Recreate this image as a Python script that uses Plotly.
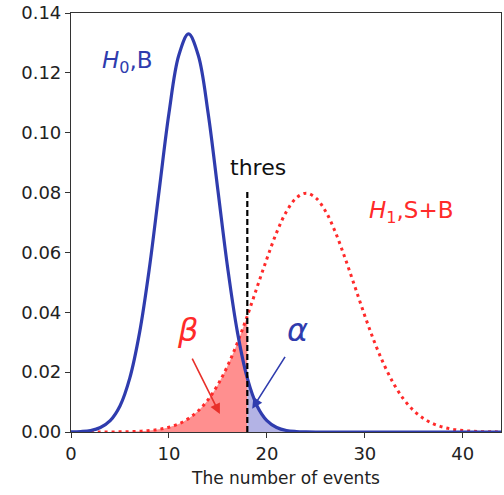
import numpy as np
import plotly.graph_objects as go

# ---- data ----
x_b = list(range(0, 45))
h0_b = [0.00004, 0.00016, 0.0005, 0.0015, 0.0038, 0.0087, 0.018, 0.0332, 0.0547, 0.0807,
        0.1065, 0.1258, 0.133, 0.1258, 0.1065, 0.0807, 0.0547, 0.0332, 0.018, 0.0087,
        0.0038, 0.0015, 0.0005, 0.00016, 0.00004] + [0.0] * 20

x_s = list(range(2, 45))
h1_sb = [0.000005, 0.000012, 0.000027, 0.000058, 0.00012, 0.00025, 0.00048, 0.00089,
         0.0016, 0.0027, 0.0045, 0.0071, 0.0108, 0.0158, 0.0222, 0.0299, 0.0388, 0.0484,
         0.0579, 0.0667, 0.0737, 0.0782, 0.0798, 0.0782, 0.0737, 0.0667, 0.0579, 0.0484,
         0.0388, 0.0299, 0.0222, 0.0158, 0.0108, 0.0071, 0.0045, 0.0027, 0.0016, 0.00089,
         0.00048, 0.00025, 0.00012, 0.000058, 0.000027]

thres = 18
thres_top = 0.0805
x_ticks = [0, 10, 20, 30, 40]
y_ticks = [0.00, 0.02, 0.04, 0.06, 0.08, 0.10, 0.12, 0.14]

BLUE = "#2f3cae"
RED = "#ff2a2a"
FONT = "DejaVu Sans"

xb = np.array(x_b)
yb = np.array(h0_b)
xs = np.array(x_s)
ys = np.array(h1_sb)

fig = go.Figure()

# beta region (under H1 left of threshold)
m = xs <= thres
fig.add_trace(go.Scatter(x=xs[m], y=ys[m], mode="lines", line=dict(width=0, shape="spline"),
                         fill="tozeroy", fillcolor="rgba(255,115,115,0.8)", hoverinfo="skip"))
# alpha region (under H0 right of threshold)
m2 = xb >= thres
fig.add_trace(go.Scatter(x=xb[m2], y=yb[m2], mode="lines", line=dict(width=0, shape="spline"),
                         fill="tozeroy", fillcolor="rgba(160,160,222,0.8)", hoverinfo="skip"))

# curves
fig.add_trace(go.Scatter(x=xs, y=ys, mode="lines",
                         line=dict(color=RED, width=3, dash="3px,4px", shape="spline")))
fig.add_trace(go.Scatter(x=xb, y=yb, mode="lines",
                         line=dict(color=BLUE, width=3.2, shape="spline")))

# threshold
fig.add_trace(go.Scatter(x=[thres, thres], y=[0, thres_top], mode="lines",
                         line=dict(color="black", width=2.2, dash="6px,3px")))

ann = []
ann.append(dict(x=19.1, y=0.0885, text="thres", showarrow=False,
                font=dict(size=22, color="#111", family=FONT)))
ann.append(dict(x=5.8, y=0.1235, text="<i>H</i><sub>0</sub>,B", showarrow=False,
                font=dict(size=23, color=BLUE, family=FONT)))
ann.append(dict(x=34.8, y=0.0735, text="<i>H</i><sub>1</sub>,S+B", showarrow=False,
                font=dict(size=23, color=RED, family=FONT)))
ann.append(dict(x=11.9, y=0.034, text="<i>β</i>", showarrow=False,
                font=dict(size=32, color=RED, family=FONT)))
ann.append(dict(x=23.1, y=0.034, text="<i>α</i>", showarrow=False,
                font=dict(size=32, color=BLUE, family=FONT)))
# arrows
ann.append(dict(x=15.2, y=0.006, ax=12.3, ay=0.025, axref="x", ayref="y", xref="x", yref="y",
                text="", showarrow=True, arrowhead=2, arrowsize=1.3, arrowwidth=1.6,
                arrowcolor="#e8302a"))
ann.append(dict(x=18.5, y=0.0078, ax=21.95, ay=0.0256, axref="x", ayref="y", xref="x", yref="y",
                text="", showarrow=True, arrowhead=2, arrowsize=1.3, arrowwidth=1.6,
                arrowcolor=BLUE))

fig.update_layout(
    width=504, height=495,
    margin=dict(l=71, r=2, t=11, b=63),
    paper_bgcolor="white", plot_bgcolor="white",
    showlegend=False,
    annotations=ann,
    font=dict(family=FONT, size=18, color="#222"),
)
fig.update_xaxes(range=[0, 43.9], tickvals=x_ticks, ticktext=[str(v) for v in x_ticks],
                 showgrid=False, zeroline=False, showline=True, linecolor="#333", linewidth=1.2,
                 mirror=True, ticks="outside", ticklen=5, tickcolor="#333",
                 tickfont=dict(size=18, family=FONT, color="#222"),
                 title=dict(text="The number of events", font=dict(size=17, family=FONT, color="#222"),
                            standoff=9))
fig.update_yaxes(range=[0, 0.14], tickvals=y_ticks, ticktext=[f"{v:.2f}" for v in y_ticks],
                 showgrid=False, zeroline=False, showline=True, linecolor="#333", linewidth=1.2,
                 mirror=True, ticks="outside", ticklen=5, tickcolor="#333",
                 tickfont=dict(size=18, family=FONT, color="#222"))

fig.write_html("out.html")
